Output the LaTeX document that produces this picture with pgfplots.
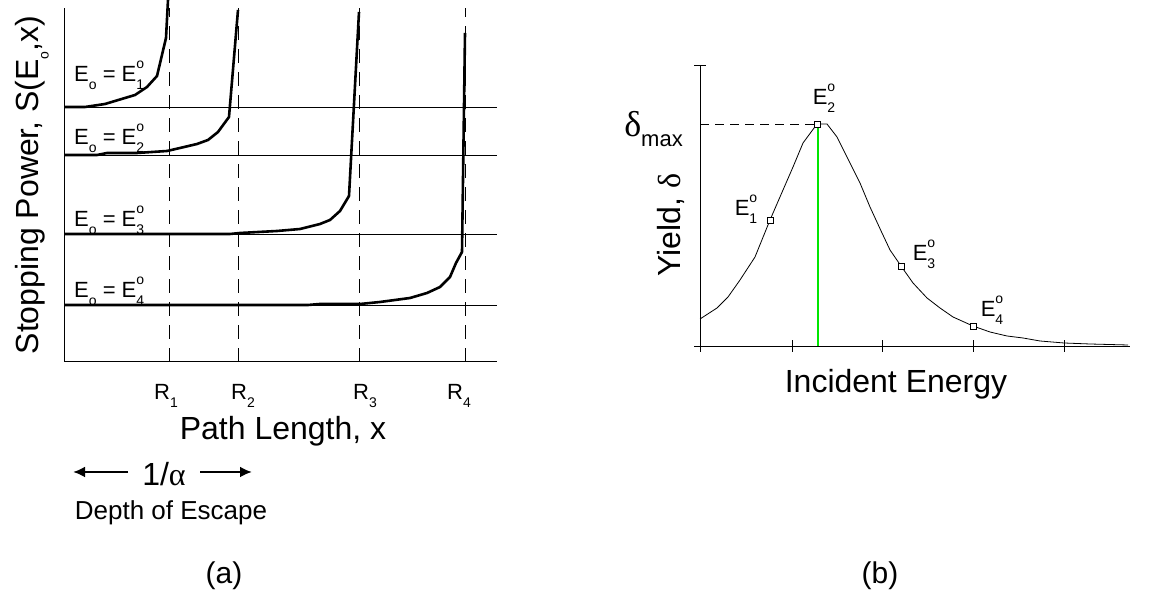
\documentclass[border=0pt]{standalone}
\usepackage{fontspec}
\setmainfont{Liberation Sans}
\newfontfamily\greek{Liberation Serif}
\usepackage{pgfplots}
\pgfplotsset{compat=1.18}
\usetikzlibrary{arrows.meta}
\definecolor{brightgreen}{RGB}{0,230,0}
\newcommand\fs[1]{\fontsize{#1}{#1}\selectfont}
% E with stacked superscript o and numeric subscript
\newcommand\Eo[1]{E\rlap{\raisebox{0.62em}{\fs{14}o}}\raisebox{-0.32em}{\fs{14}#1}}
\newcommand\sub[1]{\raisebox{-0.32em}{\fs{14}#1}}

\begin{document}
\begin{tikzpicture}
\useasboundingbox (0,0) rectangle (1156pt,593pt);

% ---- panel (a): stopping power vs path length
\begin{axis}[
  at={(64pt,231pt)}, anchor=south west,
  scale only axis, width=433pt, height=354pt,
  xmin=0, xmax=433, ymin=0, ymax=354,
  axis lines=left, axis line style={-, line width=1pt},
  xtick=\empty, ytick=\empty, clip=false
]
% baselines
\addplot[black, line width=0.8pt] coordinates {(0,255) (433,255)};
\addplot[black, line width=0.8pt] coordinates {(0,207) (433,207)};
\addplot[black, line width=0.8pt] coordinates {(0,128) (433,128)};
\addplot[black, line width=0.8pt] coordinates {(0,57) (433,57)};
% ranges
\addplot[black, line width=0.9pt, dash pattern=on 14pt off 9pt] coordinates {(105,0) (105,354)};
\addplot[black, line width=0.9pt, dash pattern=on 14pt off 9pt] coordinates {(174,0) (174,354)};
\addplot[black, line width=0.9pt, dash pattern=on 14pt off 9pt] coordinates {(295,0) (295,354)};
\addplot[black, line width=0.9pt, dash pattern=on 14pt off 9pt] coordinates {(401,0) (401,354)};
% curves
\addplot[black, line width=2.6pt, line join=round] coordinates
  {(0,255) (21,255) (41,258) (71,267) (83,275) (93,286) (102,324) (104,362)};
\addplot[black, line width=2.6pt, line join=round] coordinates
  {(0,207) (33,207) (43,209) (73,209) (103,211) (116,214) (133,218) (144,222) (154,230) (165,245) (174,352)};
\addplot[black, line width=2.6pt, line join=round] coordinates
  {(0,128) (166,128) (176,129) (213,131) (236,133) (256,138) (266,142) (276,151) (285,166) (295,350)};
\addplot[black, line width=2.6pt, line join=round] coordinates
  {(0,57) (244,57) (256,58) (296,58) (316,60) (346,64) (363,69) (376,75) (386,85) (392,99) (398,110) (401,329)};
\end{axis}

% ---- panel (b): yield vs incident energy
\begin{axis}[
  at={(700pt,247pt)}, anchor=south west,
  scale only axis, width=430pt, height=281pt,
  xmin=0, xmax=430, ymin=0, ymax=281,
  axis lines=left, axis line style={-, line width=0.8pt},
  xtick={0,92,182,273,364}, ytick={0,281},
  xticklabels={}, yticklabels={},
  tick align=center, major tick length=12pt,
  tick style={black, line width=0.8pt},
  clip=false
]
\addplot[brightgreen, line width=2pt] coordinates {(118,0) (118,222)};
\addplot[black, line width=0.8pt, dash pattern=on 9pt off 6pt] coordinates {(0,222) (117,222)};
\addplot[black, line width=0.8pt] coordinates
  {(0,27) (17,38) (28,49) (40,66) (55,89) (70,126) (83,156) (93,179) (103,203)
   (117,222) (127,222) (137,209) (147,189) (160,163) (170,139) (182,113) (190,96)
   (201,80) (213,63) (227,48) (240,38) (253,29) (273,20) (290,14) (307,10)
   (323,8) (340,5) (364,3) (390,2) (428,1)};
\addplot[only marks, mark=square*, mark size=3pt,
  mark options={fill=white, draw=black, line width=0.8pt}] coordinates
  {(70,126) (117,222) (201,80) (273,20)};
\end{axis}

% ---- labels, panel (a)
\node[rotate=90, font=\fs{32}] at (32pt,408pt) {Stopping Power, S(E\sub{o},x)};
\node[anchor=base west, inner sep=0pt, font=\fs{22}] at (74pt,511pt) {E\sub{o} = \Eo{1}};
\node[anchor=base west, inner sep=0pt, font=\fs{22}] at (74pt,448pt) {E\sub{o} = \Eo{2}};
\node[anchor=base west, inner sep=0pt, font=\fs{22}] at (74pt,366pt) {E\sub{o} = \Eo{3}};
\node[anchor=base west, inner sep=0pt, font=\fs{22}] at (74pt,295pt) {E\sub{o} = \Eo{4}};
\node[anchor=base, font=\fs{22}] at (166pt,193pt) {R\sub{1}};
\node[anchor=base, font=\fs{22}] at (243pt,193pt) {R\sub{2}};
\node[anchor=base, font=\fs{22}] at (365pt,193pt) {R\sub{3}};
\node[anchor=base, font=\fs{22}] at (459pt,193pt) {R\sub{4}};
\node[anchor=base, font=\fs{32}] at (283pt,153pt) {Path Length, x};
\draw[line width=2.5pt, -{Latex[length=12pt,width=11pt]}] (128pt,121pt) -- (73pt,121pt);
\draw[line width=2.5pt, -{Latex[length=12pt,width=11pt]}] (200pt,121pt) -- (252pt,121pt);
\node[font=\fs{32}] at (164pt,119pt) {1/{\greek α}};
\node[anchor=base, font=\fs{26}] at (171pt,73pt) {Depth of Escape};
\node[font=\fs{30}] at (224pt,17pt) {(a)};

% ---- labels, panel (b)
\node[rotate=90, font=\fs{32}] at (671pt,368pt) {Yield, {\greek δ}};
\node[anchor=base east, inner sep=0pt] at (683pt,456pt) {{\fs{36}\greek δ}{\fs{22}\raisebox{-10pt}{max}}};
\node[anchor=base, font=\fs{22}] at (824pt,488pt) {\Eo{2}};
\node[anchor=base, font=\fs{22}] at (746pt,377pt) {\Eo{1}};
\node[anchor=base, font=\fs{22}] at (924pt,332pt) {\Eo{3}};
\node[anchor=base, font=\fs{22}] at (992pt,276pt) {\Eo{4}};
\node[anchor=base, font=\fs{32}] at (896pt,200pt) {Incident Energy};
\node[font=\fs{30}] at (880pt,17pt) {(b)};
\end{tikzpicture}
\end{document}
